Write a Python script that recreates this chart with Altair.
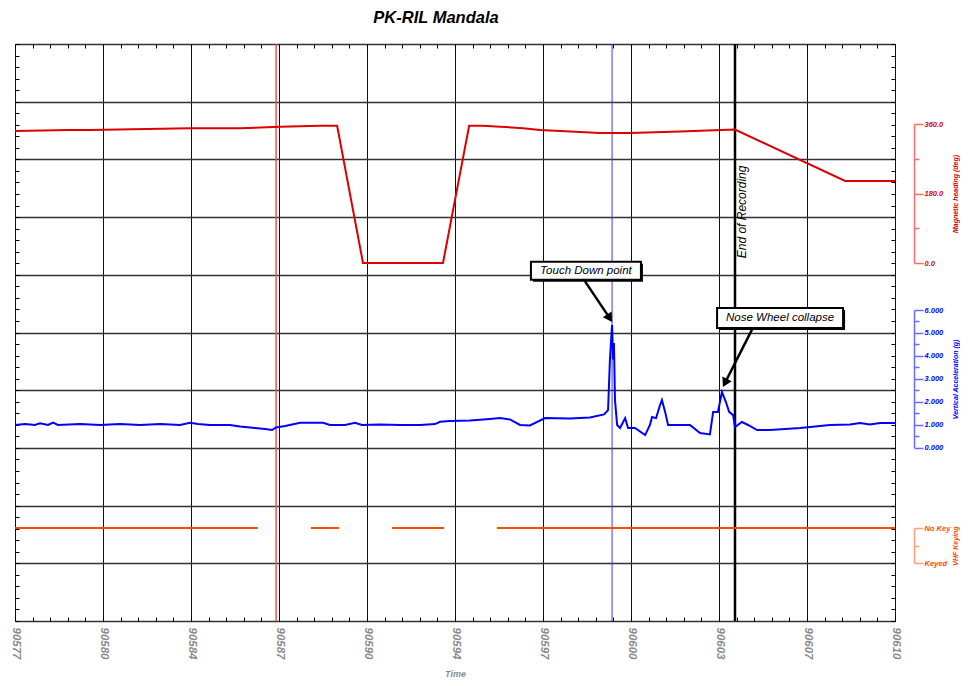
import altair as alt
import pandas as pd

FONT = "Liberation Sans"
T0, T1 = 90577, 90610
W, H = 880, 577

# ---------------- data ----------------
heading_time = [90577.0, 90579.06, 90579.81, 90583.56, 90585.44, 90586.94, 90588.44,
                90589.08, 90590.05, 90593.05, 90594.03, 90594.55, 90595.19, 90596.05,
                90596.69, 90598.94, 90600.06, 90601.94, 90604.0, 90608.13, 90610.0]
heading_deg = [341.9, 344.5, 344.5, 348.9, 348.9, 353.0, 355.6,
               355.6, 0.0, 0.0, 355.6, 355.6, 353.0, 349.0,
               344.5, 336.7, 336.7, 340.6, 345.8, 212.4, 212.4]

accel_time = [90577.00, 90577.38, 90577.75, 90577.94, 90578.24, 90578.43, 90578.61, 90579.44, 90580.19, 90580.94,
              90581.69, 90582.44, 90583.19, 90583.56, 90583.86, 90584.31, 90585.06, 90585.44, 90586.00, 90586.38,
              90586.64, 90586.79, 90587.13, 90587.69, 90588.55, 90588.81, 90589.38, 90589.75, 90590.01, 90590.69,
              90591.44, 90592.19, 90592.75, 90592.94, 90593.31, 90594.06, 90594.81, 90595.19, 90595.56, 90595.94,
              90596.31, 90596.88, 90597.81, 90598.56, 90599.09, 90599.24, 90599.31, 90599.39, 90599.43, 90599.46,
              90599.50, 90599.58, 90599.69, 90599.88, 90599.99, 90600.25, 90600.63, 90600.81, 90600.89, 90601.04,
              90601.19, 90601.26, 90601.38, 90601.49, 90602.31, 90602.69, 90603.06, 90603.18, 90603.36, 90603.51,
              90603.66, 90603.78, 90603.93, 90604.00, 90604.26, 90604.49, 90604.83, 90605.31, 90606.44, 90607.56,
              90608.31, 90608.69, 90609.06, 90609.44, 90610.00]
accel_g = [0.99, 1.03, 0.99, 1.06, 0.99, 1.09, 0.99, 1.03, 0.99, 1.03,
           0.99, 1.03, 0.99, 1.09, 1.03, 0.99, 0.99, 0.92, 0.86, 0.81,
           0.77, 0.88, 0.95, 1.09, 1.09, 0.99, 0.99, 1.09, 0.99, 1.01,
           0.99, 0.99, 1.03, 1.13, 1.16, 1.19, 1.25, 1.29, 1.23, 0.99,
           0.97, 1.29, 1.27, 1.32, 1.45, 1.64, 3.84, 5.35, 3.84, 4.56,
           2.08, 0.99, 0.86, 1.29, 0.86, 0.86, 0.55, 0.99, 1.34, 1.29,
           1.86, 2.08, 1.56, 0.99, 0.99, 0.64, 0.58, 1.56, 1.56, 2.43,
           1.99, 1.56, 1.42, 0.90, 1.12, 0.99, 0.77, 0.77, 0.86, 0.99,
           1.01, 1.08, 1.01, 1.08, 1.08]

vhf_start = [90577.0, 90588.10, 90591.14, 90595.07]
vhf_end = [90586.11, 90589.15, 90593.09, 90610.0]
vhf_state = [1, 1, 1, 1]          # 1 = No Key, 0 = Keyed

event_time = [90586.79, 90599.39, 90604.0]
event_color = ["#ff4d4d", "#3a3aff", "#000000"]
event_width = [1.5, 1.0, 2.5]

ann_text = ["Touch Down point", "Nose Wheel collapse"]
ann_time = [90598.41, 90605.69]
ann_level = [6.07, 5.25]
ann_halfw = [55, 63]
ann_halfh = [9, 10]

arrow_t0 = [90598.37, 90604.67]
arrow_g0 = [5.89, 5.08]
arrow_t1 = [90599.27, 90603.65]
arrow_g1 = [5.27, 4.15]
arrow_angle = [147, 207]

eor_text = ["End of Recording"]
eor_time = [90604.27]
eor_level = [7.09]

x_label_ticks = [round(T0 + 3.3 * i, 3) for i in range(11)]
x_minor_ticks = [round(T0 + 0.66 * i, 3) for i in range(51)]
grid_levels = list(range(11))
minor_levels = [round(0.2 * i, 2) for i in range(51)]
heading_ticks = [0, 90, 180, 270, 360]
accel_ticks = [0, 0.5, 1, 1.5, 2, 2.5, 3, 3.5, 4, 4.5, 5, 5.5, 6]
vhf_ticks = [0, 0.5, 1]

# ---------------- helpers ----------------
def xs():
    return alt.Scale(domain=[T0, T1], nice=False, zero=False)

def gs():
    return alt.Scale(domain=[0, 10], nice=False, zero=False)

def minor_axis(orient, values):
    return alt.Axis(orient=orient, values=values, offset=-4, tickSize=4, tickColor="#000",
                    tickWidth=1, labels=False, domain=False, grid=False, title=None)

def right_axis(title, color, light, ticks, label_expr, minor_test, title_y):
    return alt.Axis(
        orient="right", offset=19, values=ticks, grid=False,
        domainColor=light, domainWidth=1.5, tickColor=light, tickWidth=1.5, tickSize=9,
        tickDash={"condition": {"test": minor_test, "value": [5, 30]}, "value": [30, 0]},
        labelExpr=label_expr, labelColor=color, labelFont=FONT, labelFontSize=7.5,
        labelFontWeight="bold", labelFontStyle="italic", labelPadding=1,
        labelFlush=False, labelOverlap=False,
        title=title, titleColor=color, titleFont=FONT, titleFontSize=7,
        titleFontWeight="bold", titleFontStyle="italic", titleAngle=270,
        titleX=41, titleY=title_y, titleAlign="center", titleBaseline="middle")

layers = []

# event vertical lines
ev_df = pd.DataFrame({"t": event_time, "c": event_color, "w": event_width})
layers.append(alt.Chart(ev_df).mark_rule().encode(
    x=alt.X("t:Q", scale=xs(), axis=None),
    color=alt.Color("c:N", scale=None),
    strokeWidth=alt.StrokeWidth("w:Q", scale=None)))

# magnetic heading
hd_df = pd.DataFrame({"t": heading_time, "v": heading_deg})
layers.append(alt.Chart(hd_df).mark_line(color="#dd0000", strokeWidth=2).encode(
    x=alt.X("t:Q", scale=xs(), axis=None),
    y=alt.Y("v:Q", scale=alt.Scale(domain=[0, 360], range=[219, 80], nice=False, zero=False),
            axis=right_axis("Magnetic heading (deg)", "#d40000", "#ff6a6a", heading_ticks,
                            "datum.value % 180 === 0 ? format(datum.value, '.1f') : ''",
                            "datum.value % 180 !== 0", 149.5))))

# vertical acceleration
ac_df = pd.DataFrame({"t": accel_time, "g": accel_g})
layers.append(alt.Chart(ac_df).mark_line(color="#0000ff", strokeWidth=2).encode(
    x=alt.X("t:Q", scale=xs(), axis=minor_axis("bottom", x_minor_ticks)),
    y=alt.Y("g:Q", scale=alt.Scale(domain=[0, 6], range=[403.7, 266], nice=False, zero=False),
            axis=right_axis("Vertical Acceleration (g)", "#0000ff", "#6a6aff", accel_ticks,
                            "datum.value % 1 === 0 ? format(datum.value, '.3f') : ''",
                            "datum.value % 1 !== 0", 334.9))))

# VHF keying
vh_df = pd.DataFrame({"s": vhf_start, "e": vhf_end, "k": vhf_state})
layers.append(alt.Chart(vh_df).mark_rule(color="#ff4a00", strokeWidth=2).encode(
    x=alt.X("s:Q", scale=xs(), axis=minor_axis("top", x_minor_ticks)),
    x2="e:Q",
    y=alt.Y("k:Q", scale=alt.Scale(domain=[0, 1], range=[519, 484], nice=False, zero=False),
            axis=right_axis("VHF Keying", "#ff4a00", "#ffa27a", vhf_ticks,
                            "datum.value === 1 ? 'No Key' : (datum.value === 0 ? 'Keyed' : '')",
                            "datum.value === 0.5", 501.5))))

# arrows
ar_df = pd.DataFrame({"t0": arrow_t0, "g0": arrow_g0, "t1": arrow_t1, "g1": arrow_g1, "a": arrow_angle})
layers.append(alt.Chart(ar_df).mark_rule(color="#000", strokeWidth=2.5).encode(
    x=alt.X("t0:Q", scale=xs(), axis=None), x2="t1:Q",
    y=alt.Y("g0:Q", scale=gs(), axis=minor_axis("left", minor_levels)), y2="g1:Q"))
layers.append(alt.Chart(ar_df).mark_point(shape="triangle", filled=True, color="#000",
                                          opacity=1, size=110).encode(
    x=alt.X("t1:Q", scale=xs(), axis=None),
    y=alt.Y("g1:Q", scale=gs(), axis=None),
    angle=alt.Angle("a:Q", scale=None)))

# annotation boxes + text (first one also carries the grid and the time axis)
for i in range(len(ann_text)):
    df = pd.DataFrame({"t": [ann_time[i]], "g": [ann_level[i]], "txt": [ann_text[i]]})
    hw, hh = ann_halfw[i], ann_halfh[i]
    yaxis = None
    xaxis = None
    if i == 0:
        yaxis = alt.Axis(orient="left", values=grid_levels, grid=True, gridColor="#333",
                         gridWidth=1.3, ticks=False, labels=False, domain=False, title=None)
        xaxis = alt.Axis(
            orient="bottom", values=x_label_ticks, grid=True, gridColor="#111", gridWidth=1,
            ticks=False, domain=False, labelExpr="format(datum.value, '.0f')", labelAngle=90,
            labelFont=FONT, labelFontSize=11.5, labelFontWeight="bold", labelFontStyle="italic",
            labelColor="#8a8a8a", labelPadding=6, labelFlush=False, labelOverlap=False,
            title="Time", titleFont=FONT, titleFontSize=9, titleFontStyle="italic",
            titleFontWeight="bold", titleColor="#8a8a8a", titlePadding=11)
    layers.append(alt.Chart(df).mark_rect(color="#000", xOffset=-hw + 2, x2Offset=hw + 2,
                                          yOffset=-hh + 2, y2Offset=hh + 2).encode(
        x=alt.X("t:Q", scale=xs(), axis=xaxis), x2="t:Q",
        y=alt.Y("g:Q", scale=gs(), axis=yaxis), y2="g:Q"))
    layers.append(alt.Chart(df).mark_rect(fill="#ffffff", stroke="#000", strokeWidth=2,
                                          xOffset=-hw, x2Offset=hw,
                                          yOffset=-hh, y2Offset=hh).encode(
        x=alt.X("t:Q", scale=xs(), axis=None), x2="t:Q",
        y=alt.Y("g:Q", scale=gs(), axis=None), y2="g:Q"))
    layers.append(alt.Chart(df).mark_text(font=FONT, fontSize=11.5, fontStyle="italic",
                                          color="#000", align="center", baseline="middle").encode(
        x=alt.X("t:Q", scale=xs(), axis=None),
        y=alt.Y("g:Q", scale=gs(), axis=None),
        text="txt:N"))

# End of Recording label
eor_df = pd.DataFrame({"t": eor_time, "g": eor_level, "txt": eor_text})
layers.append(alt.Chart(eor_df).mark_text(font=FONT, fontSize=12, fontStyle="italic", angle=270,
                                          color="#000", align="center", baseline="middle").encode(
    x=alt.X("t:Q", scale=xs(), axis=None),
    y=alt.Y("g:Q", scale=gs(), axis=minor_axis("right", minor_levels)),
    text="txt:N"))

chart = alt.layer(*layers).resolve_scale(
    x="independent", y="independent"
).resolve_axis(
    x="independent", y="independent"
).properties(
    width=W, height=H,
    title=alt.TitleParams("PK-RIL Mandala", font=FONT, fontSize=16.5, fontStyle="italic",
                          fontWeight="bold", color="#000", anchor="middle", frame="group",
                          dx=-19, offset=16),
    padding={"left": 7, "top": 36, "right": 65, "bottom": 57},
    autosize=alt.AutoSizeParams(type="none"),
).configure_view(stroke="#000", strokeWidth=1.3).configure(background="#ffffff")

chart.save("out.html", embed_options={"renderer": "svg", "actions": False})
